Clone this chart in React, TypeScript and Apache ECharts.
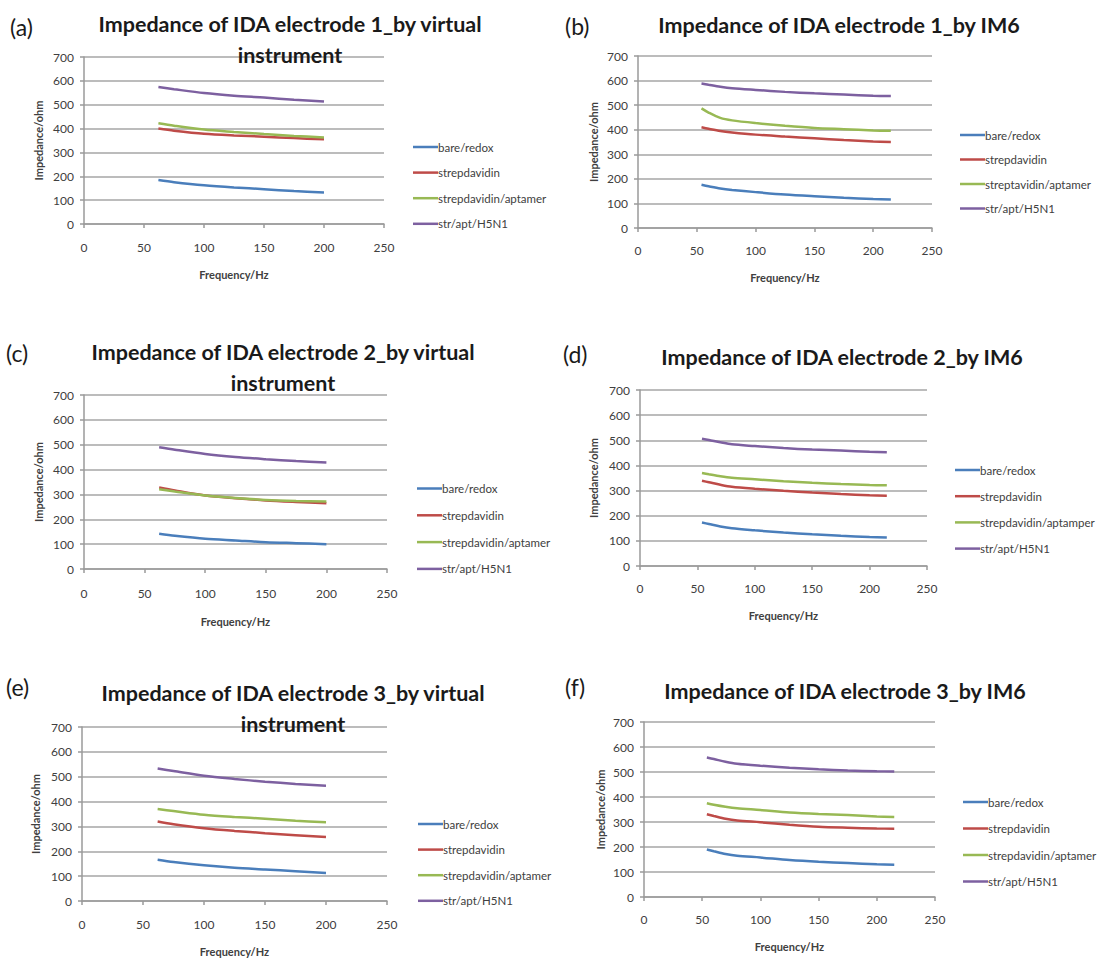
import React, { useEffect, useRef } from "react";
import * as echarts from "echarts";

const VI_FREQ = [62, 75, 100, 125, 150, 175, 200];
const IM6_FREQ = [54, 60, 70, 80, 100, 125, 150, 175, 200, 215];

const X_TICKS = [0, 50, 100, 150, 200, 250];
const Y_TICKS = [0, 100, 200, 300, 400, 500, 600, 700];

// (a) electrode 1, virtual instrument
const A_BARE = [184, 175, 162, 153, 146, 138, 132];
const A_STREP = [400, 391, 378, 371, 366, 360, 355];
const A_APT = [422, 412, 396, 386, 377, 369, 363];
const A_H5N1 = [574, 565, 549, 538, 530, 521, 513];
// (b) electrode 1, IM6
const B_BARE = [176, 170, 161, 155, 146, 136, 129, 123, 118, 116];
const B_STREP = [410, 404, 395, 389, 380, 372, 365, 358, 352, 350];
const B_APT = [487, 470, 448, 438, 427, 416, 407, 402, 397, 396];
const B_H5N1 = [588, 583, 575, 569, 562, 554, 548, 543, 538, 537];
// (c) electrode 2, virtual instrument
const C_BARE = [142, 134, 122, 115, 108, 104, 100];
const C_STREP = [328, 316, 296, 285, 276, 270, 265];
const C_APT = [321, 312, 296, 286, 278, 274, 272];
const C_H5N1 = [490, 480, 463, 451, 442, 434, 428];
// (d) electrode 2, IM6
const D_BARE = [173, 167, 157, 150, 142, 133, 126, 120, 115, 113];
const D_STREP = [339, 333, 323, 315, 307, 299, 292, 286, 281, 279];
const D_APT = [370, 365, 357, 351, 345, 337, 331, 326, 322, 321];
const D_H5N1 = [506, 501, 492, 484, 477, 469, 463, 459, 454, 452];
// (e) electrode 3, virtual instrument
const E_BARE = [166, 157, 144, 134, 127, 120, 113];
const E_STREP = [320, 309, 293, 282, 273, 265, 257];
const E_APT = [370, 362, 347, 338, 331, 323, 317];
const E_H5N1 = [533, 523, 504, 491, 480, 471, 464];
// (f) electrode 3, IM6
const F_BARE = [190, 183, 172, 165, 158, 148, 141, 136, 131, 129];
const F_STREP = [331, 324, 313, 306, 299, 289, 281, 277, 274, 273];
const F_APT = [375, 369, 361, 355, 348, 338, 332, 328, 322, 320];
const F_H5N1 = [558, 552, 541, 533, 525, 517, 511, 506, 503, 502];

const NAMES_STD = ["bare/redox", "strepdavidin", "strepdavidin/aptamer", "str/apt/H5N1"];
const NAMES_B = ["bare/redox", "strepdavidin", "streptavidin/aptamer", "str/apt/H5N1"];
const NAMES_D = ["bare/redox", "strepdavidin", "strepdavidin/aptamper", "str/apt/H5N1"];

const TITLES = [
  "Impedance of IDA electrode 1_by virtual\ninstrument",
  "Impedance of IDA electrode 1_by IM6",
  "Impedance of IDA electrode 2_by virtual\ninstrument",
  "Impedance of IDA electrode 2_by IM6",
  "Impedance of IDA electrode 3_by virtual\ninstrument",
  "Impedance of IDA electrode 3_by IM6",
];
const PANEL_LABELS = ["(a)", "(b)", "(c)", "(d)", "(e)", "(f)"];
const X_NAME = "Frequency/Hz";
const Y_NAME = "Impedance/ohm";

const COLORS = ["#4a7ebb", "#be4b48", "#98b954", "#7d60a0"];

const PANEL_DATA = [
  { freq: VI_FREQ, series: [A_BARE, A_STREP, A_APT, A_H5N1], names: NAMES_STD },
  { freq: IM6_FREQ, series: [B_BARE, B_STREP, B_APT, B_H5N1], names: NAMES_B },
  { freq: VI_FREQ, series: [C_BARE, C_STREP, C_APT, C_H5N1], names: NAMES_STD },
  { freq: IM6_FREQ, series: [D_BARE, D_STREP, D_APT, D_H5N1], names: NAMES_D },
  { freq: VI_FREQ, series: [E_BARE, E_STREP, E_APT, E_H5N1], names: NAMES_STD },
  { freq: IM6_FREQ, series: [F_BARE, F_STREP, F_APT, F_H5N1], names: NAMES_STD },
];

// layout (pixels)
const LAYOUT = [
  { grid: [84, 57, 300, 167], legend: [413, 147, 25.6], title: [290, 24], label: [10, 28], xGap: [17, 45], yGap: 40 },
  { grid: [638, 56, 294, 172], legend: [960, 135, 24.5], title: [839, 25], label: [565, 27], xGap: [16, 44], yGap: 39 },
  { grid: [84, 395, 303, 174], legend: [417, 488.5, 26.8], title: [283, 352], label: [6, 354], xGap: [18, 47], yGap: 40 },
  { grid: [640, 390, 287, 176], legend: [955, 470, 26.2], title: [842, 357], label: [563, 355], xGap: [16, 44], yGap: 41 },
  { grid: [82, 727, 305, 175], legend: [418, 824, 25.6], title: [293, 693], label: [6, 688], xGap: [17, 45], yGap: 41 },
  { grid: [644, 722, 291, 175], legend: [963, 802, 26.5], title: [845, 691], label: [565, 688], xGap: [16, 44], yGap: 38 },
];

const FONT = "Lato, 'Noto Sans', sans-serif";

export default function App() {
  const ref = useRef<HTMLDivElement>(null);
  useEffect(() => {
    if (!ref.current) return;
    const chart = echarts.init(ref.current, undefined, { renderer: "svg" });
    const grids: any[] = [];
    const xAxes: any[] = [];
    const yAxes: any[] = [];
    const series: any[] = [];
    const legends: any[] = [];
    const titles: any[] = [];
    const graphics: any[] = [];
    PANEL_DATA.forEach((p, i) => {
      const L = LAYOUT[i];
      const [gl, gt, gw, gh] = L.grid;
      grids.push({ left: gl, top: gt, width: gw, height: gh, containLabel: false });
      xAxes.push({
        type: "value",
        gridIndex: i,
        min: X_TICKS[0],
        max: X_TICKS[X_TICKS.length - 1],
        interval: 50,
        name: X_NAME,
        nameLocation: "middle",
        nameGap: L.xGap[1],
        nameTextStyle: { fontFamily: FONT, fontSize: 11, fontWeight: "bold", color: "#404040" },
        axisLine: { show: true, lineStyle: { color: "#9a9a9a", width: 1.5 } },
        axisTick: { show: true, inside: false, length: 4, lineStyle: { color: "#9a9a9a", width: 1.5 } },
        axisLabel: { margin: L.xGap[0], fontFamily: FONT, fontSize: 12, color: "#404040" },
        splitLine: { show: false },
      });
      yAxes.push({
        type: "value",
        gridIndex: i,
        min: Y_TICKS[0],
        max: Y_TICKS[Y_TICKS.length - 1],
        interval: 100,
        name: Y_NAME,
        nameLocation: "middle",
        nameGap: L.yGap,
        nameRotate: 90,
        nameTextStyle: { fontFamily: FONT, fontSize: 11, fontWeight: "bold", color: "#404040" },
        axisLine: { show: true, lineStyle: { color: "#9a9a9a", width: 1.5 } },
        axisTick: { show: true, inside: false, length: 4, lineStyle: { color: "#9a9a9a", width: 1.5 } },
        axisLabel: { margin: 10, fontFamily: FONT, fontSize: 12, color: "#404040" },
        splitLine: { show: true, lineStyle: { color: "#a6a6a6", width: 1.5 } },
      });
      p.series.forEach((vals, k) => {
        series.push({
          type: "line",
          name: p.names[k],
          xAxisIndex: i,
          yAxisIndex: i,
          data: p.freq.map((f, j) => [f, vals[j]]),
          smooth: 0.3,
          showSymbol: false,
          symbol: "none",
          lineStyle: { color: COLORS[k], width: 2.5 },
          itemStyle: { color: COLORS[k] },
          z: 3,
        });
      });
      const [ll, lt, ls] = L.legend;
      legends.push({
        data: p.names,
        orient: "vertical",
        left: ll,
        top: lt - 7,
        itemWidth: 25,
        itemHeight: 2.5,
        icon: "rect",
        itemGap: ls - 14,
        padding: 0,
        selectedMode: false,
        textStyle: { fontFamily: FONT, fontSize: 11.5, color: "#404040", lineHeight: 14, padding: [0, 0, 0, -5] },
      });
      titles.push({
        text: TITLES[i],
        left: L.title[0],
        top: L.title[1] - 15.5,
        textAlign: "center",
        padding: 0,
        textStyle: { fontFamily: FONT, fontSize: 21.5, fontWeight: "bold", color: "#1a1a1a", lineHeight: 31 },
      });
      graphics.push({
        type: "text",
        left: L.label[0],
        top: L.label[1] - 13,
        style: { text: PANEL_LABELS[i], fontFamily: FONT, fontSize: 23, fill: "#1a1a1a" },
      });
    });
    chart.setOption({
      animation: false,
      backgroundColor: "#ffffff",
      color: COLORS,
      title: titles,
      legend: legends,
      grid: grids,
      xAxis: xAxes,
      yAxis: yAxes,
      series,
      graphic: graphics,
    });
    return () => chart.dispose();
  }, []);
  return (
    <div
      ref={ref}
      style={{ position: "absolute", left: 0, top: 0, width: 1102, height: 958, background: "#fff" }}
    />
  );
}
